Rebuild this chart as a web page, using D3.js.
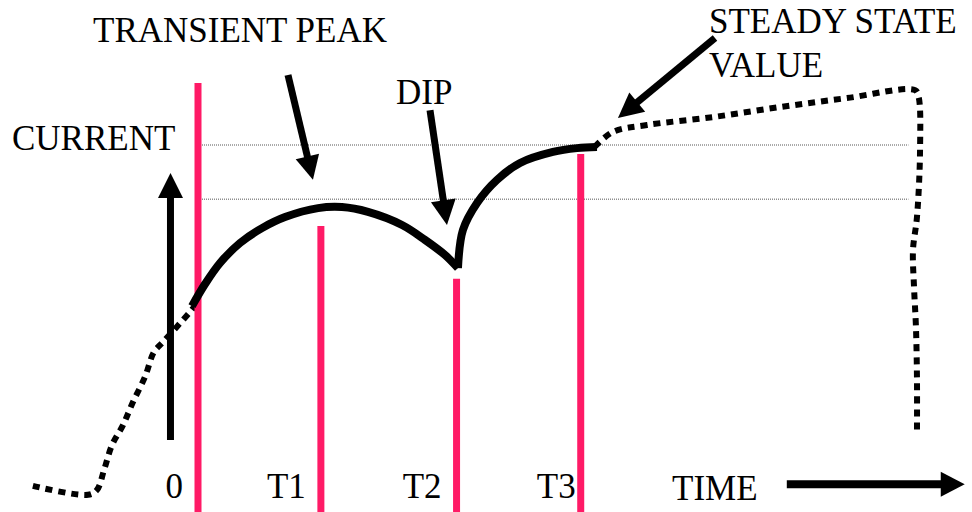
<!DOCTYPE html>
<html>
<head>
<meta charset="utf-8">
<script src="https://cdn.jsdelivr.net/npm/d3@7"></script>
</head>
<body style="margin:0">
<script>
const width = 972
const height = 512

// time (t) and current (c) readings, steady state current = 1
const preT = [-1.29, -0.86, -0.79, -0.734, -0.672, -0.586, -0.508, -0.414, -0.344, -0.273, -0.063, 0]
const preC = [0.012, -0.014, 0, 0.058, 0.13, 0.188, 0.255, 0.328, 0.4, 0.429, 0.516, 0.545]

const riseT = [-0.047, 0.055, 0.172, 0.328, 0.5, 0.68, 0.938, 1.125, 1.328, 1.594, 1.773, 1.93, 2.031]
const riseC = [0.533, 0.597, 0.658, 0.716, 0.759, 0.791, 0.817, 0.82, 0.806, 0.768, 0.725, 0.681, 0.643]

const recoverT = [2.031, 2.07, 2.18, 2.336, 2.516, 2.773, 2.961, 3.117]
const recoverC = [0.643, 0.754, 0.832, 0.899, 0.948, 0.98, 0.991, 0.994]

const postT = [3.1, 3.242, 3.508, 4.023, 4.547, 5.07, 5.602, 5.63, 5.641, 5.617, 5.586, 5.594, 5.609, 5.617, 5.617]
const postC = [0.995, 1.038, 1.058, 1.081, 1.11, 1.136, 1.159, 1.139, 0.986, 0.791, 0.696, 0.588, 0.472, 0.319, 0.168]

// event markers
const markerLabels = ['0', 'T1', 'T2', 'T3']
const markerT = [0, 0.96, 2.02, 2.99]
const markerTop = [1.18, 0.765, 0.612, 0.974]

// reference levels: steady state and transient peak
const levels = [1, 0.843]
const levelEnd = 5.55

const svg = d3.select('body')
  .append('svg')
  .attr('width', width)
  .attr('height', height)

const x = d3.scaleLinear().domain([0, 1]).range([198, 326])
const y = d3.scaleLinear().domain([0, 1]).range([490, 145])

const zip = (ts, cs) => ts.map((t, i) => ({t: t, c: cs[i]}))

const line = d3.line()
  .x((d) => x(d.t))
  .y((d) => y(d.c))
  .curve(d3.curveCatmullRom)

// arrow helper: shaft + filled triangle head
const arrow = (x1, y1, x2, y2, head, headW, w) => {
  const dx = x2 - x1
  const dy = y2 - y1
  const len = Math.sqrt(dx * dx + dy * dy)
  const ux = dx / len
  const uy = dy / len
  const bx = x2 - ux * head
  const by = y2 - uy * head
  svg.append('line')
    .attr('x1', x1).attr('y1', y1)
    .attr('x2', bx + ux * 2).attr('y2', by + uy * 2)
    .attr('stroke', '#000')
    .attr('stroke-width', w)
  svg.append('polygon')
    .attr('points', [
      [x2, y2],
      [bx - uy * headW / 2, by + ux * headW / 2],
      [bx + uy * headW / 2, by - ux * headW / 2]
    ].map((p) => p.join(',')).join(' '))
    .attr('fill', '#000')
}

// dotted reference levels
svg.selectAll('.level')
  .data(levels)
  .enter()
  .append('line')
  .attr('class', 'level')
  .attr('x1', x(0))
  .attr('x2', x(levelEnd))
  .attr('y1', (d) => y(d))
  .attr('y2', (d) => y(d))
  .attr('stroke', '#555')
  .attr('stroke-width', 1)
  .attr('stroke-dasharray', '1,1')

// dotted parts of the curve
svg.append('path')
  .datum(zip(preT, preC))
  .attr('d', line)
  .attr('fill', 'none')
  .attr('stroke', '#000')
  .attr('stroke-width', 6)
  .attr('stroke-dasharray', '7,6')

svg.append('path')
  .datum(zip(postT, postC))
  .attr('d', line)
  .attr('fill', 'none')
  .attr('stroke', '#000')
  .attr('stroke-width', 6)
  .attr('stroke-dasharray', '7,6')

// pink event lines
svg.selectAll('.marker')
  .data(markerT)
  .enter()
  .append('line')
  .attr('class', 'marker')
  .attr('x1', (d) => x(d))
  .attr('x2', (d) => x(d))
  .attr('y1', (d, i) => y(markerTop[i]))
  .attr('y2', height)
  .attr('stroke', '#ff1a66')
  .attr('stroke-width', 7)

// solid transient
svg.append('path')
  .datum(zip(riseT, riseC))
  .attr('d', line)
  .attr('fill', 'none')
  .attr('stroke', '#000')
  .attr('stroke-width', 8)

svg.append('path')
  .datum(zip(recoverT, recoverC))
  .attr('d', line)
  .attr('fill', 'none')
  .attr('stroke', '#000')
  .attr('stroke-width', 8)

// axis arrows
arrow(x(-0.215), y(0.145), x(-0.215), y(0.919), 25, 25, 7)
arrow(x(4.6), y(0.017), x(5.99), y(0.017), 24, 25, 8)

// pointer arrows
arrow(x(0.703), y(1.203), x(0.898), y(0.899), 24, 24, 7)
arrow(x(1.8125), y(1.101), x(1.945), y(0.768), 25, 25, 7)
arrow(x(4.039), y(1.31), x(3.281), y(1.078), 25, 25, 7)

// all text: marker labels + annotations
const texts = markerLabels.map((d, i) => ({
  text: d, x: x(markerT[i]) - (i === 3 ? 5 : 15), y: 498, anchor: 'end'
})).concat([
  {text: 'CURRENT', x: 12, y: 150, anchor: 'start'},
  {text: 'TRANSIENT PEAK', x: 93, y: 42, anchor: 'start'},
  {text: 'DIP', x: 396, y: 104, anchor: 'start'},
  {text: 'STEADY STATE', x: 709, y: 33, anchor: 'start'},
  {text: 'VALUE', x: 709, y: 77, anchor: 'start'},
  {text: 'TIME', x: 672, y: 500, anchor: 'start'}
])

// set at 32px and scaled up to ~35px
svg.selectAll('text')
  .data(texts)
  .enter()
  .append('text')
  .attr('transform', (d) => `translate(${d.x}, ${d.y}) scale(1.094)`)
  .attr('text-anchor', (d) => d.anchor)
  .style('font-family', '"Liberation Serif", "Times New Roman", serif')
  .style('font-size', '32px')
  .text((d) => d.text)
</script>
</body>
</html>
